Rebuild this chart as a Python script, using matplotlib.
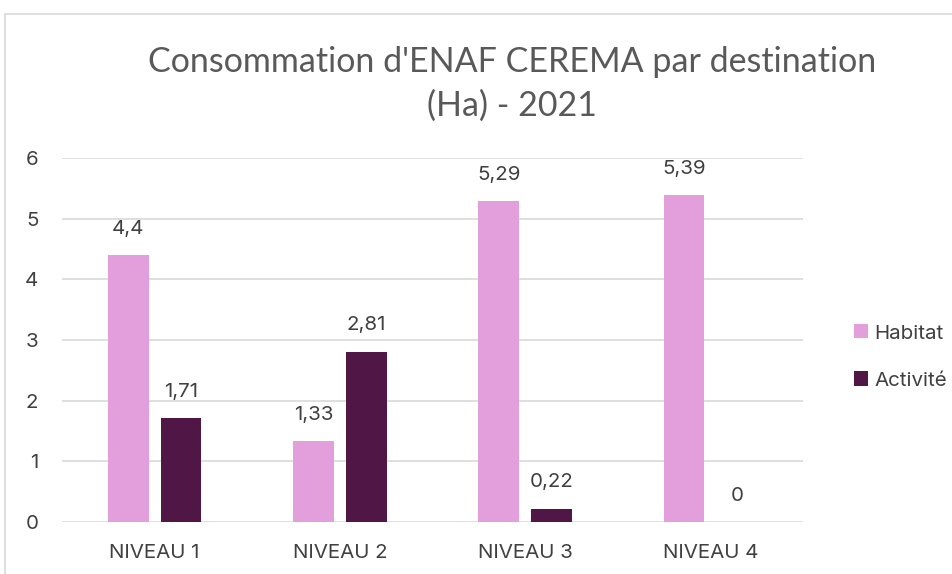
import matplotlib
matplotlib.use("Agg")
import matplotlib.pyplot as plt
import numpy as np
from matplotlib.patches import Rectangle

categories = ["NIVEAU 1", "NIVEAU 2", "NIVEAU 3", "NIVEAU 4"]
habitat = [4.4, 1.33, 5.29, 5.39]
activite = [1.71, 2.81, 0.22, 0]
labels_h = ["4,4", "1,33", "5,29", "5,39"]
labels_a = ["1,71", "2,81", "0,22", "0"]
series_names = ["Habitat", "Activité"]
title_lines = ["Consommation d'ENAF CEREMA par destination", "(Ha) - 2021"]

c_h = "#E39FDB"
c_a = "#501646"
txt = "#404040"
font = "Inter"
fs = 14.8

W, H = 953, 574
fig = plt.figure(figsize=(W/100, H/100), dpi=100)
fig.patch.set_facecolor("white")
fig.add_artist(Rectangle((5/W, -0.1), 1.2, (H-14)/H + 0.1, transform=fig.transFigure,
                         fill=False, edgecolor="#D9D9D9", linewidth=1.2))

ax = fig.add_axes([62/W, 1-522/H, (803-62)/W, (522-158)/H])
x = np.arange(len(categories))
bw = 0.22
gap = 0.065
off = (bw + gap) / 2
b1 = ax.bar(x - off, habitat, bw, color=c_h, label=series_names[0])
b2 = ax.bar(x + off, activite, bw, color=c_a, label=series_names[1])

for xs, vals, labs in ((x - off, habitat, labels_h), (x + off, activite, labels_a)):
    for xi, v, l in zip(xs, vals, labs):
        ax.annotate(l, (xi, v), xytext=(0, 12.5), textcoords="offset points", ha="center",
                    va="bottom", fontsize=fs, color=txt, family=font)

ax.set_xlim(-0.5, len(categories) - 0.5)
ax.set_ylim(0, 6)
ax.set_yticks(range(0, 7))
ax.yaxis.grid(True, color="#D9D9D9", linewidth=1.2)
ax.set_axisbelow(True)
for s in ax.spines.values():
    s.set_visible(False)
ax.tick_params(length=0, labelsize=fs, colors=txt)
ax.tick_params(axis="x", pad=16)
ax.tick_params(axis="y", pad=17)
ax.set_xticks(x)
ax.set_xticklabels(categories, family=font)
for t in ax.get_yticklabels():
    t.set_family(font)

for yc, line in zip((62, 106), title_lines):
    fig.text(512/W, 1-yc/H, line, ha="center", va="center", fontsize=24.5,
             color="#595959", family="Lato")

leg = fig.legend(handles=[b1, b2], loc="center left", bbox_to_anchor=(836/W, 1-357/H),
                 frameon=False, prop={"family": font, "size": fs}, handlelength=0.68,
                 handleheight=0.68, handletextpad=0.3, labelspacing=1.4)
for t in leg.get_texts():
    t.set_color(txt)

fig.savefig("out.png", dpi=100, facecolor="white")
